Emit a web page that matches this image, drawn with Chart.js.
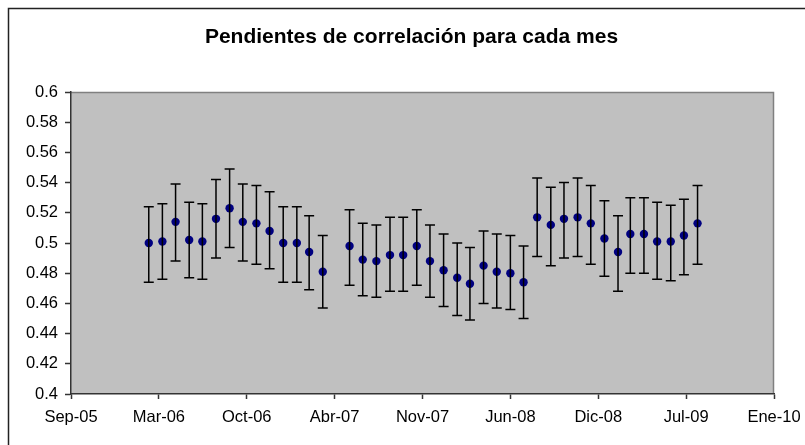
<!DOCTYPE html>
<html>
<head>
<meta charset="utf-8">
<script src="https://cdn.jsdelivr.net/npm/chart.js@4/dist/chart.umd.min.js"></script>
<style>
html,body{margin:0;padding:0;background:#fff;}
#wrap{width:805px;height:445px;position:relative;}
</style>
</head>
<body>
<div id="wrap"><canvas id="c" width="805" height="445"></canvas></div>
<script>
// ---- data ----
const months = ['2006-03','2006-04','2006-05','2006-06','2006-07','2006-08','2006-09','2006-10','2006-11','2006-12',
  '2007-01','2007-02','2007-03','2007-04','2007-06','2007-07','2007-08','2007-09','2007-10','2007-11','2007-12',
  '2008-01','2008-02','2008-03','2008-04','2008-05','2008-06','2008-07','2008-08','2008-09','2008-10','2008-11','2008-12',
  '2009-01','2009-02','2009-03','2009-04','2009-05','2009-06','2009-07','2009-08'];
const slopes = [0.500,0.501,0.514,0.502,0.501,0.516,0.523,0.514,0.513,0.508,
  0.500,0.500,0.494,0.481,0.498,0.489,0.488,0.492,0.492,0.498,0.488,
  0.482,0.477,0.473,0.485,0.481,0.480,0.474,0.517,0.512,0.516,0.517,0.513,
  0.503,0.494,0.506,0.506,0.501,0.501,0.505,0.513];
const upper = [0.524,0.526,0.539,0.527,0.526,0.542,0.549,0.539,0.538,0.534,
  0.524,0.524,0.518,0.505,0.522,0.513,0.512,0.517,0.517,0.522,0.512,
  0.506,0.500,0.497,0.508,0.506,0.505,0.498,0.543,0.537,0.540,0.543,0.538,
  0.528,0.518,0.530,0.530,0.527,0.525,0.529,0.538];
const lower = [0.474,0.476,0.488,0.477,0.476,0.490,0.497,0.488,0.486,0.483,
  0.474,0.474,0.469,0.457,0.472,0.465,0.464,0.468,0.468,0.472,0.464,
  0.458,0.452,0.449,0.460,0.457,0.456,0.450,0.491,0.485,0.490,0.491,0.486,
  0.478,0.468,0.480,0.480,0.476,0.475,0.479,0.486];
const xMinSerial = 38600, xMaxSerial = 40200, xStep = 200;   // Sep-05 .. Ene-10
const yMin = 0.4, yMax = 0.6, yStep = 0.02;
const monthNames = ['Ene','Feb','Mar','Abr','May','Jun','Jul','Ago','Sep','Oct','Nov','Dic'];
const titleText = 'Pendientes de correlación para cada mes';

// ---- helpers ----
const EPOCH = Date.UTC(1899, 11, 30);
function toSerial(ym){ const [y,m] = ym.split('-').map(Number); return (Date.UTC(y, m-1, 1) - EPOCH) / 86400000; }
function serialLabel(s){ const d = new Date(EPOCH + s*86400000); return monthNames[d.getUTCMonth()] + '-' + String(d.getUTCFullYear()).slice(2); }

const points = months.map((m,i) => ({x: toSerial(m), y: slopes[i], hi: upper[i], lo: lower[i]}));

const FONT = "'Liberation Sans', Arial, sans-serif";

const bgPlugin = {
  id: 'bg',
  beforeDraw(chart){
    const {ctx, chartArea:a} = chart;
    ctx.save();
    ctx.fillStyle = '#fff';
    ctx.fillRect(0,0,chart.width,chart.height);
    ctx.fillStyle = '#C0C0C0';
    ctx.fillRect(a.left, a.top, a.right-a.left, a.bottom-a.top);
    ctx.strokeStyle = '#808080';
    ctx.lineWidth = 1.5;
    ctx.beginPath();
    ctx.moveTo(a.left, a.top+0.5); ctx.lineTo(a.right-0.5, a.top+0.5); ctx.lineTo(a.right-0.5, a.bottom);
    ctx.stroke();
    // outer chart frame
    ctx.strokeStyle = '#222';
    ctx.lineWidth = 1.5;
    ctx.strokeRect(8.5, 8.5, 900, 900);
    ctx.restore();
  }
};

const errPlugin = {
  id: 'errbars',
  afterDatasetsDraw(chart){
    const {ctx, scales:{x, y}} = chart;
    ctx.save();
    ctx.strokeStyle = '#000';
    ctx.lineWidth = 1.5;
    chart.data.datasets[0].data.forEach(p => {
      const px = x.getPixelForValue(p.x);
      const yh = y.getPixelForValue(p.hi), yl = y.getPixelForValue(p.lo);
      ctx.beginPath();
      ctx.moveTo(px, yh); ctx.lineTo(px, yl);
      ctx.moveTo(px-5, yh); ctx.lineTo(px+5, yh);
      ctx.moveTo(px-5, yl); ctx.lineTo(px+5, yl);
      ctx.stroke();
    });
    ctx.restore();
  }
};

new Chart(document.getElementById('c'), {
  type: 'scatter',
  data: { datasets: [{
    data: points,
    backgroundColor: '#000080',
    borderColor: '#000080',
    pointRadius: 4.2,
    pointHoverRadius: 4.2,
    borderWidth: 0
  }]},
  options: {
    responsive: false,
    animation: false,
    events: [],
    layout: { padding: { left: 18, right: 0, top: 0, bottom: 0 } },
    plugins: {
      legend: { display: false },
      tooltip: { enabled: false },
      title: {
        display: true, text: titleText, color: '#000',
        font: { family: FONT, size: 21, weight: 'bold' },
        padding: { top: 25, bottom: 41.8 }
      }
    },
    scales: {
      x: {
        type: 'linear', min: xMinSerial, max: xMaxSerial,
        afterBuildTicks(scale){ const t=[]; for(let v=xMinSerial; v<=xMaxSerial; v+=xStep) t.push({value:v}); scale.ticks = t; },
        afterFit(scale){ scale.height = 51; scale.paddingLeft = 0; scale.paddingRight = 0; },
        grid: { display: true, drawOnChartArea: false, drawTicks: true, tickLength: 5, tickColor: '#333', tickWidth: 1.5 },
        border: { display: true, color: '#333', width: 1.5 },
        ticks: { color: '#000', font: { family: FONT, size: 16.5 }, padding: 9, maxRotation: 0, autoSkip: false,
          callback: v => serialLabel(v) }
      },
      y: {
        type: 'linear', min: yMin, max: yMax,
        afterBuildTicks(scale){ const t=[]; for(let i=0; i<=Math.round((yMax-yMin)/yStep); i++) t.push({value: +(yMin+i*yStep).toFixed(2)}); scale.ticks = t; },
        afterFit(scale){ scale.width = 53; },
        grid: { display: true, drawOnChartArea: false, drawTicks: true, tickLength: 6, tickColor: '#333', tickWidth: 1.5 },
        border: { display: true, color: '#333', width: 1.5 },
        ticks: { color: '#000', font: { family: FONT, size: 16.5 }, padding: 7,
          callback: v => String(Number(Number(v).toFixed(2))) }
      },
      y2: {
        type: 'linear', position: 'right', display: true,
        grid: { display: false, drawTicks: false }, border: { display: false },
        ticks: { display: false },
        afterFit(scale){ scale.width = 31; }
      }
    }
  },
  plugins: [bgPlugin, errPlugin]
});
</script>
</body>
</html>
